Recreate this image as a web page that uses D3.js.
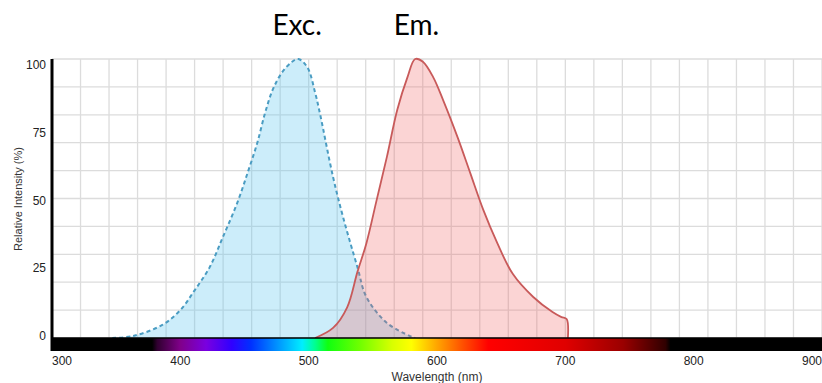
<!DOCTYPE html>
<html>
<head>
<meta charset="utf-8">
<script src="https://cdn.jsdelivr.net/npm/d3@7"></script>
<style>
  body { margin: 0; background: #fff; }
  svg { display: block; }
</style>
</head>
<body>
<div id="chart"></div>
<script>
// Spectra data (wavelength in nm, relative intensity in %)
const excWavelengths = [347, 363, 386, 400, 411, 423, 433, 444, 453, 460, 466, 472, 479, 487, 492, 499, 505, 509, 519, 527, 538, 545, 561, 579, 583];
const excIntensity   = [0, 0.7, 4.7, 10, 17, 25.5, 36, 48, 60, 70, 80.6, 89, 95, 99, 100, 97, 88, 80, 57.7, 43, 25.4, 14.7, 5.4, 0.7, 0];

const emWavelengths = [505, 519, 530, 538, 545, 553, 561, 569, 577, 583, 589, 597, 605, 616, 626, 636, 647, 659, 675, 690, 697, 701, 702];
const emIntensity   = [0, 3.6, 11, 23.7, 34, 49.5, 65, 81.7, 93.5, 100, 99, 93.5, 85, 72, 59, 46, 34, 23, 14.7, 9.3, 7.5, 6.8, 0];

const peakLabels = ["Exc.", "Em."];
const peakWavelengths = [491, 584];

const xTicks = [300, 400, 500, 600, 700, 800, 900];
const yTicks = [0, 25, 50, 75, 100];

// Visible spectrum bar colour stops
const specWavelengths = [300, 378, 382, 400, 420, 440, 455, 475, 495, 505, 515, 540, 565, 580, 600, 620, 640, 700, 745, 778, 782, 900];
const specColors = ["#000000", "#000000", "#300030", "#80008a", "#7a00e0", "#3000ff", "#0030ff", "#0090ff", "#00eeff", "#00ff90", "#10ff10", "#70ff00", "#d8ff00", "#ffff00", "#ffa500", "#ff5000", "#ff0000", "#e00000", "#9a0000", "#300000", "#000000", "#000000"];

const width = 822;
const height = 383;
const margin = { left: 52, right: 822, top: 59, bottom: 338 };

const svg = d3.select("#chart")
  .append("svg")
    .attr("width", width)
    .attr("height", height);

const x = d3.scaleLinear().domain([300, 900]).range([margin.left, margin.right]);
const y = d3.scaleLinear().domain([0, 100]).range([margin.bottom, margin.top]);
const yLabel = d3.scaleLinear().domain([0, 100]).range([337, 66]);

// ------ Grid ------ //
const grid = svg.append("g").attr("stroke", "#dcdcdc").attr("stroke-width", 1.3);
grid.selectAll(".gx")
  .data(d3.range(0, 28).map(i => 300 + i * 600 / 27))
  .join("line")
    .attr("x1", d => x(d)).attr("x2", d => x(d))
    .attr("y1", margin.top).attr("y2", margin.bottom);
grid.selectAll(".gy")
  .data(d3.range(0, 101, 10))
  .join("line")
    .attr("x1", margin.left).attr("x2", margin.right)
    .attr("y1", d => y(d)).attr("y2", d => y(d));

// ------ Spectra ------ //
const exc = excWavelengths.map((w, i) => ({ w, v: excIntensity[i] }));
const em = emWavelengths.map((w, i) => ({ w, v: emIntensity[i] }));

const area = d3.area()
  .x(d => x(d.w)).y0(y(0)).y1(d => y(d.v))
  .curve(d3.curveCatmullRom.alpha(0.5));
const line = d3.line()
  .x(d => x(d.w)).y(d => y(d.v))
  .curve(d3.curveCatmullRom.alpha(0.5));

svg.append("path")
  .attr("d", area(exc))
  .attr("fill", "rgba(100, 200, 240, 0.33)");
svg.append("path")
  .attr("d", line(exc))
  .attr("fill", "none")
  .attr("stroke", "#4a9cc2")
  .attr("stroke-width", 2)
  .attr("stroke-dasharray", "4,3");

svg.append("path")
  .attr("d", area(em))
  .attr("fill", "rgba(240, 100, 100, 0.28)");
svg.append("path")
  .attr("d", line(em))
  .attr("fill", "none")
  .attr("stroke", "#c85a5a")
  .attr("stroke-width", 1.8);

// ------ Spectrum bar ------ //
const defs = svg.append("defs");
const grad = defs.append("linearGradient")
  .attr("id", "spectrum")
  .attr("gradientUnits", "userSpaceOnUse")
  .attr("x1", x(300)).attr("x2", x(900))
  .attr("y1", 0).attr("y2", 0);
grad.selectAll("stop")
  .data(specWavelengths)
  .join("stop")
    .attr("offset", d => (x(d) - x(300)) / (x(900) - x(300)))
    .attr("stop-color", (d, i) => specColors[i]);

svg.append("rect")
  .attr("x", x(300)).attr("y", margin.bottom)
  .attr("width", x(900) - x(300)).attr("height", 13)
  .attr("fill", "url(#spectrum)");
svg.append("line")
  .attr("x1", x(300)).attr("x2", x(900))
  .attr("y1", margin.bottom).attr("y2", margin.bottom)
  .attr("stroke", "#000").attr("stroke-width", 1.5);

// ------ Y axis ------ //
svg.append("line")
  .attr("x1", margin.left).attr("x2", margin.left)
  .attr("y1", margin.top).attr("y2", margin.bottom + 13)
  .attr("stroke", "#000").attr("stroke-width", 3);

svg.selectAll(".ytick")
  .data(yTicks)
  .join("text")
    .attr("x", 46)
    .attr("y", d => yLabel(d))
    .attr("text-anchor", "end")
    .attr("dominant-baseline", "middle")
    .attr("font-family", "Liberation Sans, Arial, sans-serif")
    .attr("font-size", 12)
    .attr("fill", "#222")
    .text(d => d);

svg.append("text")
  .attr("transform", `translate(19, 199) rotate(-90)`)
  .attr("text-anchor", "middle")
  .attr("dominant-baseline", "middle")
  .attr("font-family", "Liberation Sans, Arial, sans-serif")
  .attr("font-size", 11)
  .attr("fill", "#333")
  .text("Relative Intensity (%)");

// ------ X axis ------ //
svg.selectAll(".xtick")
  .data(xTicks)
  .join("text")
    .attr("x", d => x(d))
    .attr("y", 365)
    .attr("text-anchor", (d, i) => i === 0 ? "start" : i === xTicks.length - 1 ? "end" : "middle")
    .attr("font-family", "Liberation Sans, Arial, sans-serif")
    .attr("font-size", 12)
    .attr("fill", "#222")
    .text(d => d);

svg.append("text")
  .attr("x", (margin.left + margin.right) / 2)
  .attr("y", 381)
  .attr("text-anchor", "middle")
  .attr("font-family", "Liberation Sans, Arial, sans-serif")
  .attr("font-size", 12)
  .attr("fill", "#333")
  .text("Wavelength (nm)");

// ------ Peak labels ------ //
svg.selectAll(".peak")
  .data(peakLabels)
  .join("text")
    .attr("x", (d, i) => x(peakWavelengths[i]))
    .attr("y", 35)
    .attr("text-anchor", "middle")
    .attr("font-family", "Lato, Open Sans, sans-serif")
    .attr("font-size", 28)
    .attr("fill", "#000")
    .text(d => d);
</script>
</body>
</html>
